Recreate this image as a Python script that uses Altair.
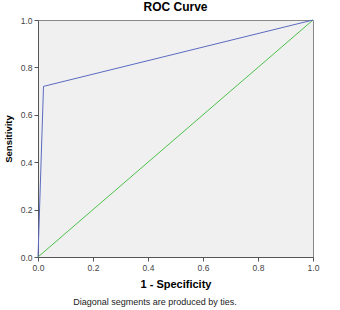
import altair as alt
import pandas as pd

roc_x = [0.0, 0.0, 0.02, 1.0]
roc_y = [0.0, 0.0, 0.72, 1.0]
ref_x = [0.0, 1.0]
ref_y = [0.0, 1.0]
ticks = [0.0, 0.2, 0.4, 0.6, 0.8, 1.0]
footnote = ["Diagonal segments are produced by ties."]

roc = pd.DataFrame({"x": roc_x, "y": roc_y, "o": range(len(roc_x))})
ref = pd.DataFrame({"x": ref_x, "y": ref_y, "o": range(len(ref_x))})
note = pd.DataFrame({"t": footnote})

xs = alt.Scale(domain=[0, 1], nice=False)
ys = alt.Scale(domain=[0, 1], nice=False)
font = "Liberation Sans"

xax = alt.Axis(values=ticks, format=".1f", title="1 - Specificity", grid=False,
               labelFontSize=8.5, labelColor="#444", titleFontSize=11, titleFontWeight="bold",
               titleColor="#000", domainColor="#555", tickColor="#555", tickSize=4,
               labelFont=font, titleFont=font, titlePadding=7, labelPadding=2,
               labelFlush=False)
yax = alt.Axis(values=ticks, format=".1f", title="Sensitivity", grid=False,
               labelFontSize=8.5, labelColor="#444", titleFontSize=9.5, titleFontWeight="bold",
               titleColor="#000", domainColor="#555", tickColor="#555", tickSize=4,
               labelFont=font, titleFont=font, titlePadding=7, labelPadding=2,
               labelFlush=False)

ref_line = alt.Chart(ref).mark_line(color="#4cc24c", strokeWidth=1).encode(
    x=alt.X("x:Q", scale=xs, axis=xax),
    y=alt.Y("y:Q", scale=ys, axis=yax),
    order="o:Q",
)
roc_line = alt.Chart(roc).mark_line(color="#5b6bc0", strokeWidth=1).encode(
    x=alt.X("x:Q", scale=xs),
    y=alt.Y("y:Q", scale=ys),
    order="o:Q",
)
note_text = alt.Chart(note).mark_text(fontSize=9, font=font, color="#222", align="center").encode(
    text="t:N",
    x=alt.value(117),
    y=alt.value(282),
)

chart = alt.layer(ref_line, roc_line, note_text).properties(
    width=275,
    height=237,
    title=alt.TitleParams("ROC Curve", fontSize=12, fontWeight="bold", font=font,
                          color="#000", offset=2),
    autosize=alt.AutoSizeParams(type="none"),
    padding={"left": 38, "top": 20, "right": 27, "bottom": 53},
    background="white",
).configure_view(fill="#f0f0f0", stroke="#888", strokeWidth=1)

chart.save("out.html", embed_options={"renderer": "svg", "actions": False})
